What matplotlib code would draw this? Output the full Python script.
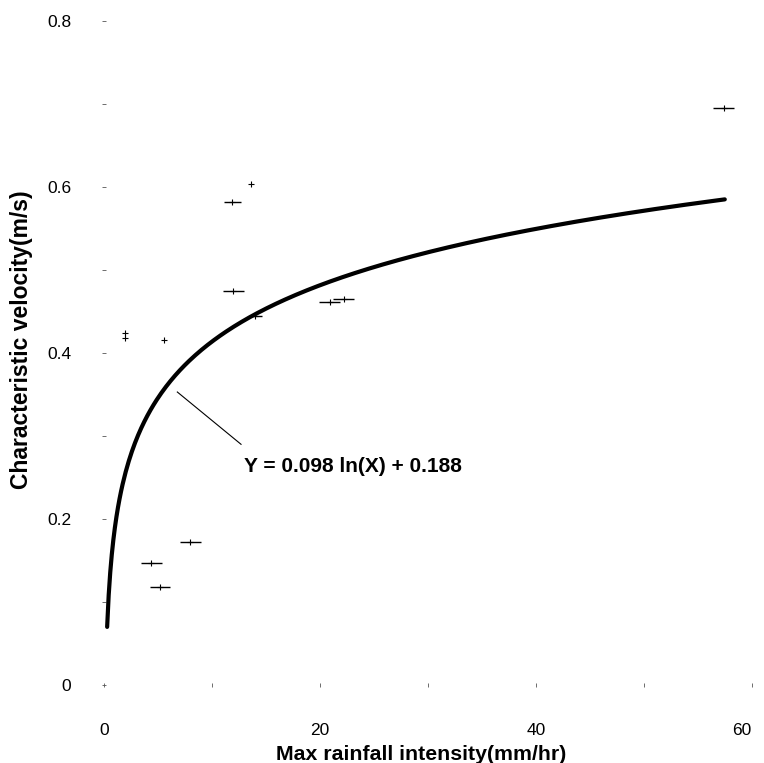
import matplotlib.pyplot as plt
import numpy as np

plt.rcParams['font.family'] = ['Liberation Sans', 'DejaVu Sans']

# observed events: max rainfall intensity vs characteristic velocity
rain_int = [2.0, 2.0, 5.6, 4.4, 5.2, 8.0, 11.9, 13.6, 12.0, 14.0, 20.9, 22.2, 57.4]
char_vel = [0.424, 0.418, 0.416, 0.147, 0.118, 0.172, 0.582, 0.604, 0.475, 0.445, 0.461, 0.465, 0.6955]
x_err = [0.0, 0.0, 0.0, 0.95, 0.95, 0.95, 0.8, 0.0, 1.0, 0.6, 0.95, 1.0, 0.95]

# log fit  Y = a ln(X) + b
fit_a = 0.098
fit_b = 0.188
fit_x = np.linspace(0.3, 57.5, 400)
fit_y = fit_a * np.log(fit_x) + fit_b

fig = plt.figure(figsize=(7.64, 7.63), dpi=100)
ax = fig.add_axes([0.136, 0.1022, 0.848, 0.8703])

ax.errorbar(rain_int, char_vel, xerr=x_err, fmt='+', color='black', ms=5,
            mew=0.8, elinewidth=1.0, capsize=0, clip_on=False)
ax.plot(fit_x, fit_y, color='black', lw=3, solid_capstyle='round')

ax.plot([6.8, 12.7], [0.353, 0.290], color='black', lw=0.8)
ax.text(13.0, 0.263, 'Y = 0.098 ln(X) + 0.188', fontsize=15, fontweight='bold',
        va='center', ha='left')

ax.set_xlim(0, 60)
ax.set_ylim(0, 0.8)
ax.set_xticks([0, 20, 40, 60])
ax.set_xticks([10, 30, 50], minor=True)
ax.set_yticks([0, 0.2, 0.4, 0.6, 0.8])
ax.set_yticklabels(['0', '0.2', '0.4', '0.6', '0.8'])
ax.set_yticks([0.1, 0.3, 0.5, 0.7], minor=True)
ax.tick_params(which='both', direction='inout', length=3, width=0.6, color='#555555',
               labelsize=12.5)
ax.tick_params(axis='y', which='both', pad=22)
ax.tick_params(axis='x', which='both', pad=26)
# keep the last x tick label inside the figure
ax.get_xticklabels()[-1].set_horizontalalignment('right')

for s in ax.spines.values():
    s.set_visible(False)

ax.set_xlabel('Max rainfall intensity(mm/hr)', fontsize=15.3, fontweight='bold')
ax.set_ylabel('Characteristic velocity(m/s)', fontsize=16.5, fontweight='bold')
ax.xaxis.set_label_coords(0.489, -0.090)
ax.yaxis.set_label_coords(-0.110, 0.52)

fig.savefig('out.png', dpi=100)
